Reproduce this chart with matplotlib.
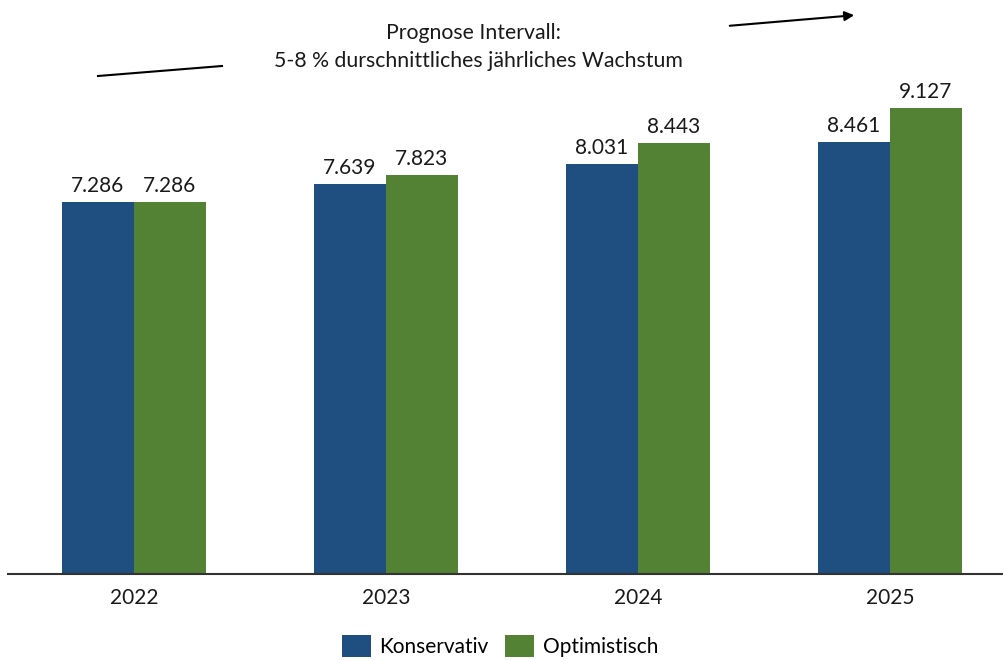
import matplotlib
matplotlib.use("Agg")
import matplotlib.pyplot as plt
import numpy as np

years = ["2022", "2023", "2024", "2025"]
konservativ = [7.286, 7.639, 8.031, 8.461]
optimistisch = [7.286, 7.823, 8.443, 9.127]
labels_k = ["7.286", "7.639", "8.031", "8.461"]
labels_o = ["7.286", "7.823", "8.443", "9.127"]

plt.rcParams['font.family'] = ['Lato', 'DejaVu Sans']

W, H = 1004, 660
fig = plt.figure(figsize=(W / 100, H / 100), dpi=100)
ax_left, ax_right = 8, 1004
ax_bottom, ax_top = 574, 0
ax = fig.add_axes([ax_left / W, 1 - ax_bottom / H, (ax_right - ax_left) / W, (ax_bottom - ax_top) / H])

px_per_unit = 51.06
ax.set_ylim(0, (ax_bottom - ax_top) / px_per_unit)
cat_w = 252
ax.set_xlim(-0.5, -0.5 + (ax_right - ax_left) / cat_w)

blue = "#1F4E80"
green = "#548235"
x = np.arange(len(years))
bw = 72 / cat_w
b1 = ax.bar(x - bw / 2, konservativ, bw, color=blue, label="Konservativ")
b2 = ax.bar(x + bw / 2, optimistisch, bw, color=green, label="Optimistisch")
for bars, labs in ((b1, labels_k), (b2, labels_o)):
    for r, t in zip(bars, labs):
        ax.annotate(t, (r.get_x() + r.get_width() / 2, r.get_height()), xytext=(0, 4),
                    textcoords="offset points", ha="center", va="bottom", fontsize=15, color="#1a1a1a")

ax.set_xticks(x)
ax.set_xticklabels(years, fontsize=15, color="#1a1a1a")
ax.tick_params(axis="x", length=0, pad=10)
ax.set_yticks([])
for s in ("top", "right", "left"):
    ax.spines[s].set_visible(False)
ax.spines["bottom"].set_color("#333333")
ax.spines["bottom"].set_linewidth(1.5)

# annotation text and lines (figure pixel coordinates)
def fx(px):
    return px / W
def fy(py):
    return 1 - py / H

fig.text(fx(474), fy(33), "Prognose Intervall:", ha="center", va="center", fontsize=15.3, color="#1a1a1a")
fig.text(fx(478), fy(61), "5-8 % durschnittliches jährliches Wachstum", ha="center", va="center",
         fontsize=15.3, color="#1a1a1a")
fig.add_artist(plt.Line2D([fx(98), fx(222)], [fy(76), fy(66)], color="black", lw=1.5))
fig.add_artist(matplotlib.patches.FancyArrowPatch((fx(727), fy(26)), (fx(857), fy(15)),
                                                  transform=fig.transFigure, arrowstyle="-|>",
                                                  mutation_scale=14, color="black", lw=1.5))

fig.legend(handles=[b1, b2], loc="center", bbox_to_anchor=(fx(500), fy(646)), ncol=2, frameon=False,
           fontsize=15, handlelength=1.4, handleheight=1.2, handletextpad=0.4, columnspacing=0.8)

fig.savefig("out.png", dpi=100)
